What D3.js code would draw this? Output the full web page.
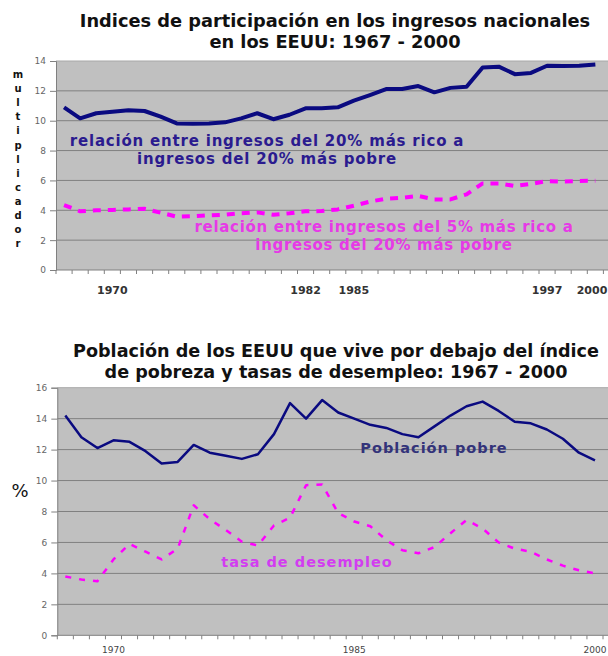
<!DOCTYPE html>
<html><head><meta charset="utf-8">
<script src="https://cdn.jsdelivr.net/npm/d3@7"></script>
<style>body{margin:0;background:#fff;overflow:hidden}</style>
</head><body><svg id="c" width="608" height="656"></svg>
<script>
const years = [1967,1968,1969,1970,1971,1972,1973,1974,1975,1976,1977,1978,1979,1980,1981,1982,1983,1984,1985,1986,1987,1988,1989,1990,1991,1992,1993,1994,1995,1996,1997,1998,1999,2000];
const ratioTop20 = [10.9,10.16,10.5,10.6,10.7,10.65,10.27,9.82,9.8,9.82,9.89,10.16,10.5,10.1,10.4,10.83,10.83,10.9,11.34,11.72,12.12,12.12,12.32,11.9,12.2,12.28,13.57,13.62,13.12,13.2,13.68,13.66,13.68,13.77];
const ratioTop5 = [4.35,3.93,4.0,4.02,4.06,4.1,3.84,3.57,3.6,3.66,3.7,3.8,3.86,3.7,3.8,3.93,3.95,4.06,4.3,4.58,4.78,4.84,4.96,4.73,4.73,5.07,5.8,5.8,5.63,5.76,5.96,5.92,5.96,5.98];
const poverty = [14.2,12.8,12.1,12.6,12.5,11.9,11.1,11.2,12.3,11.8,11.6,11.4,11.7,13.0,15.0,14.0,15.2,14.4,14.0,13.6,13.4,13.0,12.8,13.5,14.2,14.8,15.1,14.5,13.8,13.7,13.3,12.7,11.8,11.3];
const unemployment = [3.8,3.6,3.5,4.9,5.9,5.4,4.9,5.6,8.4,7.5,6.8,6.05,5.8,7.1,7.6,9.7,9.75,7.9,7.35,7.05,6.15,5.5,5.3,5.7,6.6,7.45,6.9,6.0,5.6,5.4,4.9,4.5,4.2,4.0];
const topTicks = [0,2,4,6,8,10,12,14];
const bottomTicks = [0,2,4,6,8,10,12,14,16];
const topYearLabels = [1970,1982,1985,1997,2000];
const bottomYearLabels = [1970,1985,2000];

const svg = d3.select("#c");
const FONT = "'DejaVu Sans', Verdana, sans-serif";

function panel(o){
  const g = svg.append("g");
  const x = d3.scaleBand().domain(years).range([o.left, o.left + years.length*o.band]);
  const y = d3.scaleLinear().domain([0, o.ymax]).range([o.bottom, o.top]);
  g.append("rect").attr("x", o.left).attr("y", o.top).attr("width", 620 - o.left).attr("height", o.bottom - o.top).attr("fill", "#c0c0c0");
  g.append("g").selectAll("line").data(o.ticks.filter(t=>t>0)).join("line")
    .attr("x1", o.left).attr("x2", 620).attr("y1", d=>y(d)).attr("y2", d=>y(d))
    .attr("stroke", d => d===o.ymax ? "#a8a8a8" : "#808080").attr("stroke-width", 1);
  const ya = d3.axisLeft(y).tickValues(o.ticks).tickSize(6).tickPadding(4).tickFormat(d3.format("d"));
  const yg = g.append("g").attr("transform", `translate(${o.left},0)`).call(ya);
  yg.select(".domain").attr("stroke", "#808080");
  yg.selectAll(".tick line").attr("stroke", "#808080");
  yg.selectAll("text").attr("font-family", FONT).attr("font-size", 9).attr("fill", "#666");
  g.append("line").attr("x1", o.left).attr("x2", 620).attr("y1", o.bottom).attr("y2", o.bottom).attr("stroke", "#808080");
  const bounds = years.map(d=>x(d)).concat([x(years[years.length-1]) + x.bandwidth()]);
  g.append("g").selectAll("line").data(bounds).join("line")
    .attr("x1", d=>d).attr("x2", d=>d).attr("y1", o.bottom).attr("y2", o.bottom+4).attr("stroke", "#808080");
  g.append("g").selectAll("text").data(o.yearLabels).join("text")
    .attr("x", d=>Math.min(x(d)+x.bandwidth()/2, o.maxLabelX)).attr("y", o.labelY).attr("text-anchor","middle")
    .attr("font-family", FONT).attr("font-size", o.labelSize).attr("font-weight", o.labelWeight)
    .attr("fill", o.labelFill).text(d=>d);
  o.series.forEach(s=>{
    const line = d3.line().x((d,i)=>x(years[i])+x.bandwidth()/2).y(d=>y(d));
    g.append("path").datum(s.values).attr("d", line).attr("fill","none")
      .attr("stroke", s.color).attr("stroke-width", s.width)
      .attr("stroke-dasharray", s.dash || null).attr("stroke-linejoin","round");
  });
  return {g,x,y};
}

function title(lines, cx, y0, dy, size){
  svg.append("g").selectAll("text").data(lines).join("text")
    .attr("x", cx).attr("y", (d,i)=>y0 + i*dy).attr("text-anchor","middle")
    .attr("font-family", FONT).attr("font-size", size).attr("font-weight","bold").attr("fill","#111")
    .text(d=>d);
}

// ---- Top chart
title(["Indices de participación en los ingresos nacionales","en los EEUU: 1967 - 2000"], 335, 27, 21, 17.8);

panel({left:56, top:61, bottom:270, band:16.1, ymax:14, ticks:topTicks, yearLabels: topYearLabels,
  labelY:294, labelSize:11, labelWeight:"bold", labelFill:"#333", maxLabelX:592,
  series:[
    {values: ratioTop20, color:"#0a0a80", width:4},
    {values: ratioTop5, color:"#ff00ff", width:4, dash:"8,7"}
  ]});

const mult = "multiplicador".split("");
svg.append("g").selectAll("text").data(mult).join("text")
  .attr("x", 18).attr("y", (d,i)=>78 + i*14.1).attr("text-anchor","middle")
  .attr("font-family", FONT).attr("font-size", 10).attr("font-weight","bold").attr("fill","#111").text(d=>d);

function label(lines, cx, y0, dy, color, size, ls){
  svg.append("g").selectAll("text").data(lines).join("text")
    .attr("x", cx).attr("y", (d,i)=>y0 + i*dy).attr("text-anchor","middle")
    .attr("font-family", FONT).attr("font-size", size).attr("font-weight","bold")
    .attr("letter-spacing", ls).attr("fill", color).text(d=>d);
}
label(["relación entre ingresos del 20% más rico a","ingresos del 20% más pobre"], 267, 146, 17.5, "#2b1b8f", 15, 0.8);
label(["relación entre ingresos del 5% más rico a","ingresos del 20% más pobre"], 384, 232, 18, "#e63ae6", 15, 0.7);

// ---- Bottom chart
title(["Población de los EEUU que vive por debajo del índice","de pobreza y tasas de desempleo: 1967 - 2000"], 336, 357, 21, 17.6);

panel({left:57.3, top:387.7, bottom:635.3, band:16.05, ymax:16, ticks:bottomTicks, yearLabels: bottomYearLabels,
  labelY:653, labelSize:9, labelWeight:"normal", labelFill:"#444", maxLabelX:596,
  series:[
    {values: poverty, color:"#0a0a80", width:2.5},
    {values: unemployment, color:"#ff00ff", width:2.5, dash:"6,8"}
  ]});

svg.append("text").attr("x", 20).attr("y", 497).attr("text-anchor","middle")
  .attr("font-family", FONT).attr("font-size", 18).attr("fill","#111").text("%");

label(["Población pobre"], 434, 453, 0, "#33337a", 14.5, 1.0);
label(["tasa de desempleo"], 307, 567, 0, "#d23cf0", 14.5, 1.0);
</script></body></html>
